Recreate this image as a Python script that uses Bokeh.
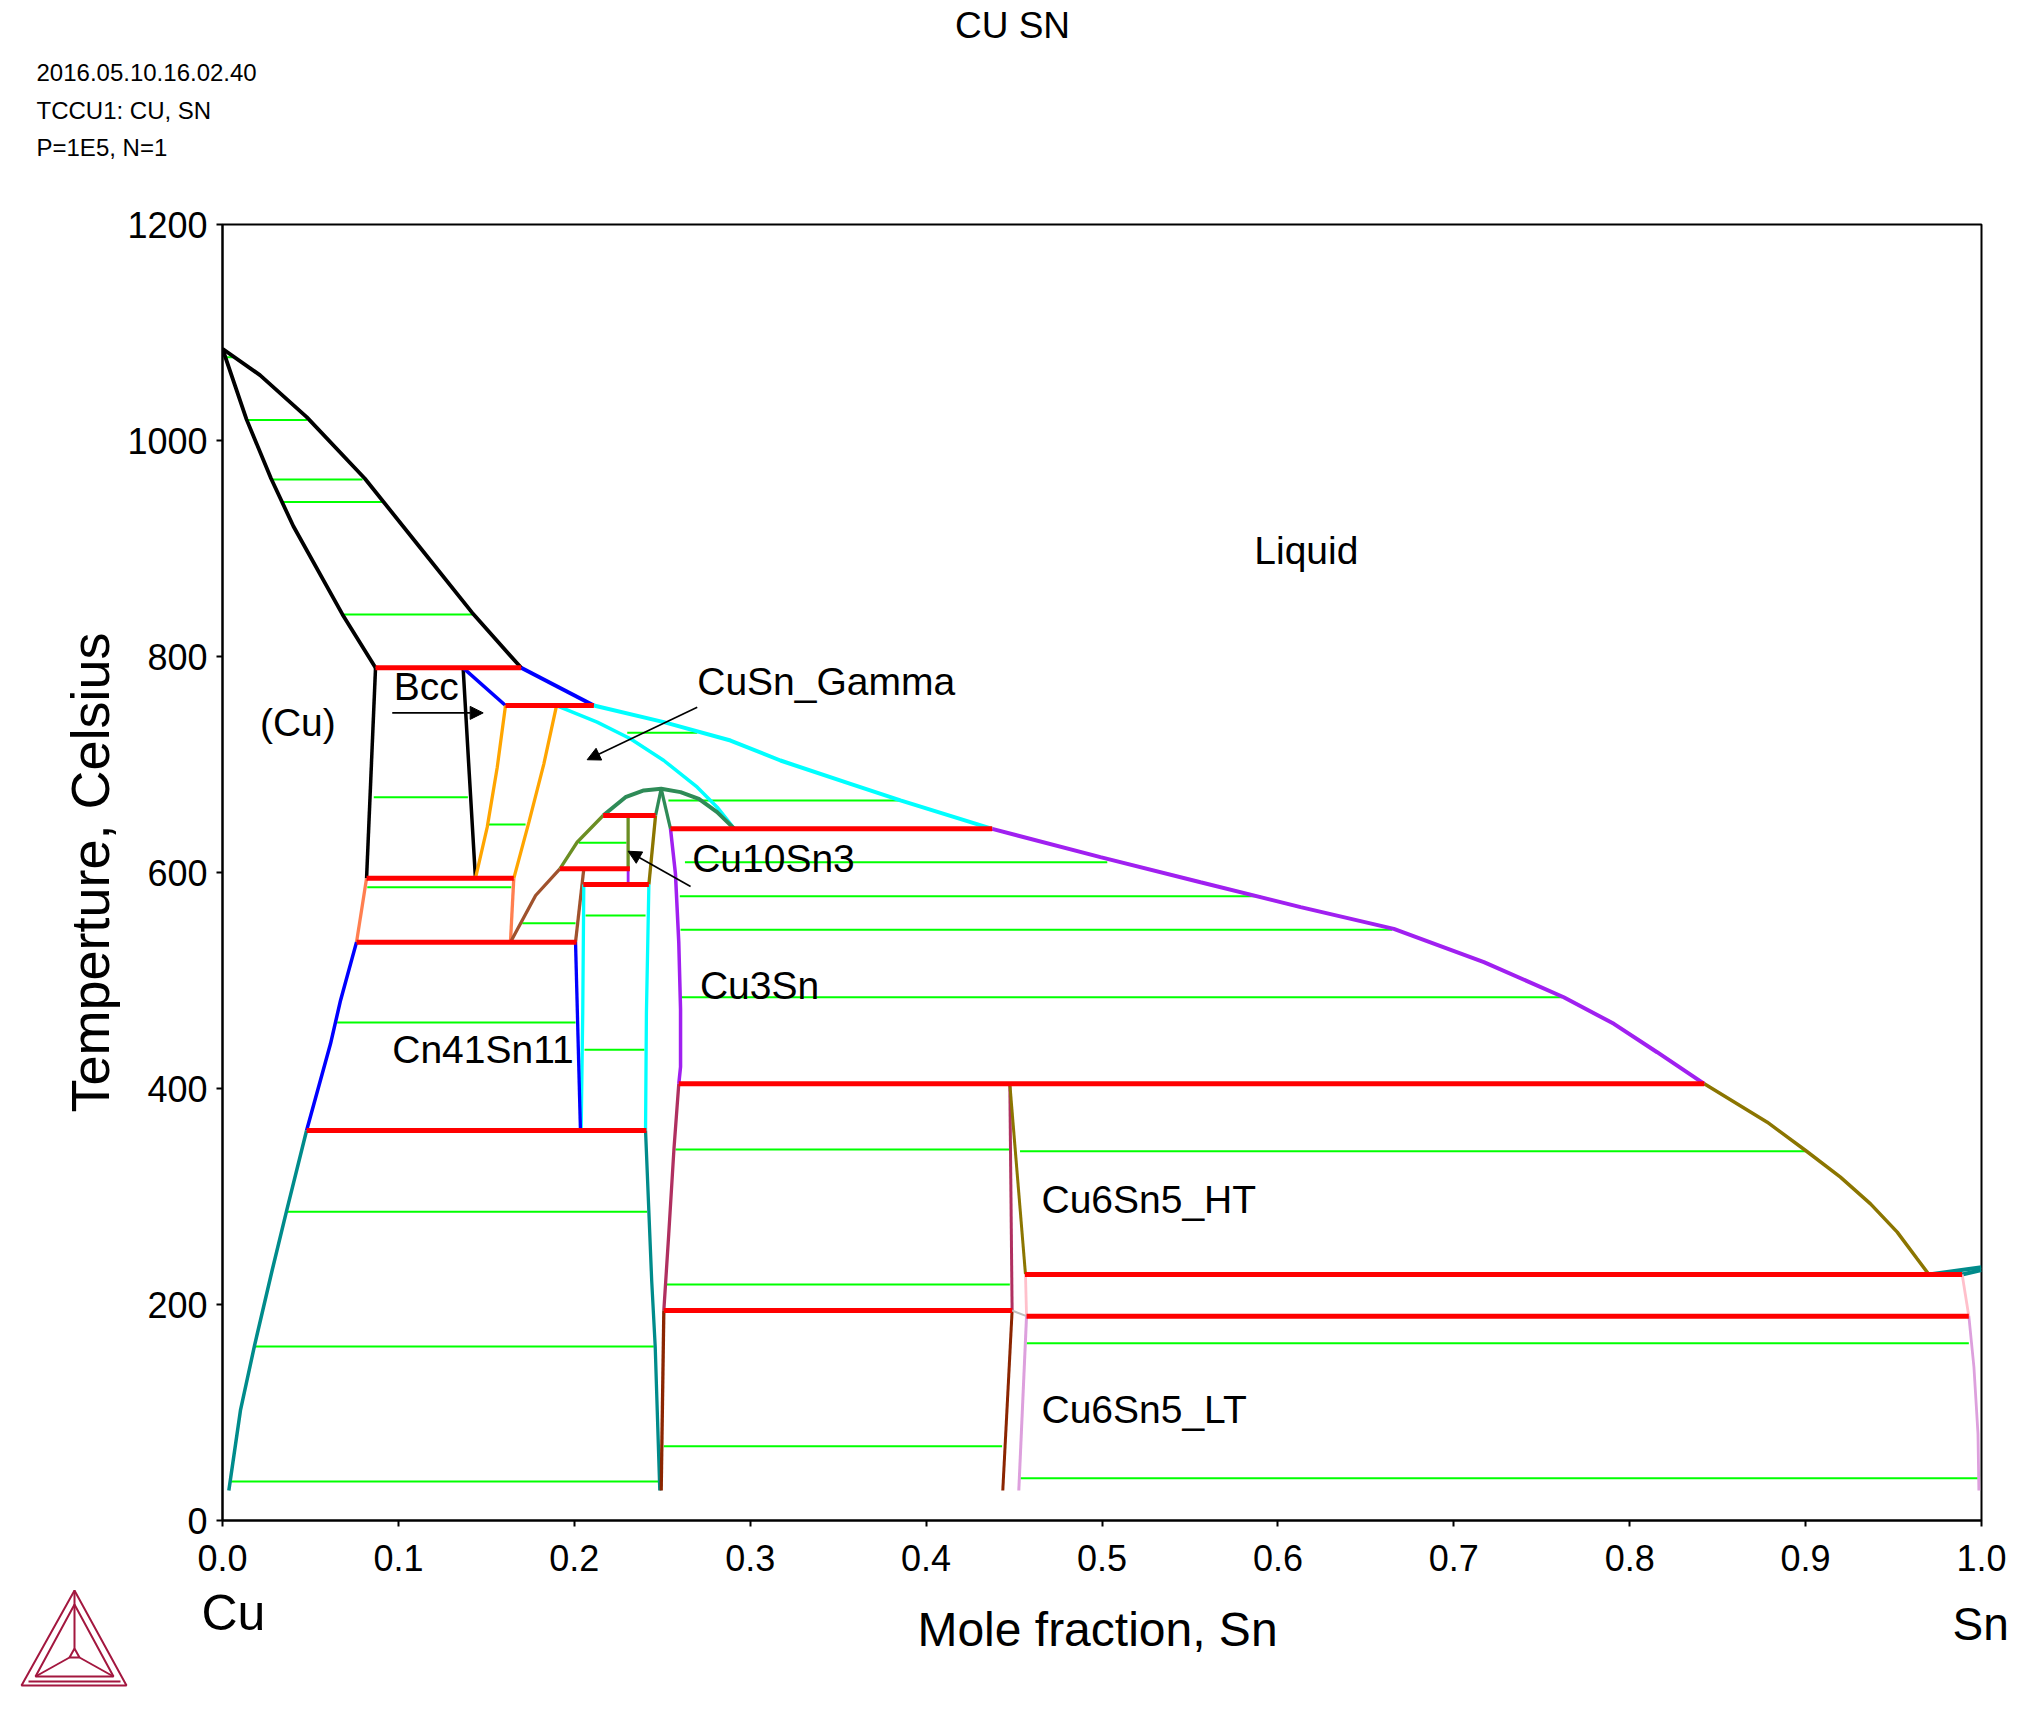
from bokeh.plotting import figure
from bokeh.layouts import column
from bokeh.models import (Range1d, FixedTicker, PrintfTickFormatter, Label, Arrow, NormalHead)
from bokeh.core.properties import value
from bokeh.embed import file_html
from bokeh.resources import INLINE

FONT = "Liberation Sans"

# ---------------- axis ticks ----------------
x_ticks = [0.0, 0.1, 0.2, 0.3, 0.4, 0.5, 0.6, 0.7, 0.8, 0.9, 1.0]
y_ticks = [0, 200, 400, 600, 800, 1000, 1200]

# ---------------- invariant (three-phase) lines ----------------
inv_T = [789.5, 754.6, 652.8, 640.4, 603.4, 594.6, 588.9, 535.5, 404.3, 361.1, 227.8, 194.4, 189.2]
inv_x0 = [0.0870, 0.1609, 0.2164, 0.2547, 0.1918, 0.0819, 0.2051, 0.0762, 0.2594, 0.0478, 0.4562, 0.2509, 0.4571]
inv_x1 = [0.1698, 0.2111, 0.2462, 0.4376, 0.2316, 0.1656, 0.2424, 0.2013, 0.8424, 0.2410, 0.9890, 0.4489, 0.9928]

# ---------------- tie lines ----------------
tie_T = [1077, 1019, 964, 943, 839, 729.3, 669.7, 666.7, 644.4, 627.5, 609.6, 586.4, 578,
         560.2, 553, 547, 484.6, 461, 435.8, 343.5, 342, 285.8, 218.5, 164.2, 161.1, 68.8, 39.2, 36.1]
tie_x0 = [0.001, 0.0136, 0.0276, 0.034, 0.0682, 0.2301, 0.0860, 0.2535, 0.1514, 0.2026, 0.2629, 0.0823, 0.2600,
          0.2064, 0.1704, 0.2604, 0.2604, 0.0652, 0.2058, 0.2575, 0.4534, 0.0364, 0.2524, 0.4571, 0.0182, 0.2509, 0.4535, 0.0038]
tie_x1 = [0.006, 0.048, 0.0796, 0.0909, 0.1421, 0.2699, 0.1395, 0.3854, 0.1723, 0.2297, 0.503, 0.1642, 0.5901,
          0.2405, 0.2007, 0.665, 0.7616, 0.2007, 0.2399, 0.4476, 0.9, 0.2414, 0.4476, 0.9928, 0.2452, 0.4432, 0.998, 0.248]

# ---------------- phase boundaries (x = mole fraction Sn, T = Celsius) ----------------
liq_cu_x = [0.0, 0.0213, 0.0479, 0.0809, 0.1114, 0.1418, 0.1698]
liq_cu_T = [1085, 1060.5, 1021.6, 964.8, 902.8, 840.8, 789.5]
sol_cu_x = [0.0, 0.0136, 0.0276, 0.0403, 0.0682, 0.0870]
sol_cu_T = [1085, 1019.8, 964.8, 920.6, 839, 789.5]
cu_solvus_x = [0.0870, 0.0819]
cu_solvus_T = [789.5, 594.6]
bcc_left_x = [0.1368, 0.1403, 0.1438]
bcc_left_T = [789.5, 691, 594.6]
bcc_sol_x = [0.1368, 0.1609]
bcc_sol_T = [789.5, 754.6]
bcc_liq_x = [0.1698, 0.2111]
bcc_liq_T = [789.5, 754.6]
bcc_right_x = [0.1609, 0.1562, 0.1505, 0.1438]
bcc_right_T = [754.6, 697.5, 642, 594.6]
gam_left_x = [0.1899, 0.1827, 0.1742, 0.1656]
gam_left_T = [754.6, 700.6, 646.6, 594.6]
gam_sol_x = [0.1899, 0.213, 0.2319, 0.2509, 0.2699, 0.2812, 0.2910]
gam_sol_T = [754.6, 739.2, 723.8, 703.7, 679, 660.5, 640.4]
gam_liq_x = [0.2111, 0.2509, 0.2888, 0.3172, 0.357, 0.3854, 0.4376]
gam_liq_T = [754.6, 739.2, 722.2, 703.7, 682.1, 666.7, 640.4]
eps_liq_x = [0.4376, 0.4991, 0.556, 0.6129, 0.6659, 0.7171, 0.7625, 0.791, 0.8156, 0.8424]
eps_liq_T = [640.4, 614.2, 591, 567.9, 547.8, 517, 484.5, 459.9, 433.6, 404.3]
eta_liq_x = [0.8424, 0.8782, 0.9, 0.9198, 0.9369, 0.9521, 0.9634, 0.9701]
eta_liq_T = [404.3, 368.8, 342.6, 317.9, 293.2, 267, 242.3, 227.8]
sn_liq_x = [0.9701, 1.0]
sn_liq_T = [227.8, 234.5]
sn_sol_x = [0.9890, 1.0]
sn_sol_T = [227.8, 232.0]
sn_ht_x = [0.9890, 0.9928]
sn_ht_T = [227.8, 189.2]
sn_lt_x = [0.9928, 0.9957, 0.9980, 0.9985]
sn_lt_T = [189.2, 142, 80.2, 27.8]
coral_l_x = [0.0819, 0.0762]
coral_l_T = [594.6, 535.5]
coral_r_x = [0.1656, 0.1637]
coral_r_T = [594.6, 535.5]
cu_low_x = [0.0762, 0.0671, 0.0614, 0.0478]
cu_low_T = [535.5, 481.5, 441.4, 361.1]
cu_rt_x = [0.0478, 0.0364, 0.0282, 0.0182, 0.0102, 0.0036]
cu_rt_T = [361.1, 286.4, 231.5, 162, 101.9, 27.8]
gam_low_x = [0.1637, 0.178, 0.1918]
gam_low_T = [535.5, 578.7, 603.4]
gam_mid_x = [0.1918, 0.2016, 0.2164]
gam_mid_T = [603.4, 628, 652.8]
dome_x = [0.2164, 0.2291, 0.2395, 0.2494, 0.2604, 0.2708, 0.2812, 0.2910]
dome_T = [652.8, 669.7, 676, 677.5, 674.4, 668.2, 655.9, 640.4]
peak_l_x = [0.2494, 0.2462]
peak_l_T = [677.5, 652.8]
cu10_r_x = [0.2462, 0.2424]
cu10_r_T = [652.8, 588.9]
peak_r_x = [0.2494, 0.2547]
peak_r_T = [677.5, 640.4]
cu3_r_x = [0.2547, 0.2575, 0.2594, 0.2604, 0.2604, 0.2594]
cu3_r_T = [640.4, 598.8, 535, 473.5, 420, 404.3]
cu10_v_x = [0.2306, 0.2306]
cu10_v_T = [652.8, 603.4]
cu10_p_x = [0.2306, 0.2306]
cu10_p_T = [603.4, 588.9]
c41_top_x = [0.2054, 0.2007]
c41_top_T = [603.4, 535.5]
c41_r_x = [0.2054, 0.2048, 0.2039]
c41_r_T = [588.9, 470, 361.1]
c41_l_x = [0.2007, 0.2035]
c41_l_T = [535.5, 361.1]
cu3_l_x = [0.2424, 0.2410, 0.2405]
cu3_l_T = [588.9, 470, 361.1]
cu3_ll_x = [0.2405, 0.2440, 0.2460, 0.2486]
cu3_ll_T = [361.1, 222, 161, 27.8]
cu3_rl_x = [0.2594, 0.2566, 0.2537, 0.2509]
cu3_rl_T = [404.3, 342.6, 265.4, 194.4]
cu3_rb_x = [0.2509, 0.2494]
cu3_rb_T = [194.4, 27.8]
c65_l_x = [0.4476, 0.4489]
c65_l_T = [404.3, 194.4]
c65_lb_x = [0.4489, 0.4436]
c65_lb_T = [194.4, 27.8]
c65_ht_x = [0.4476, 0.4565]
c65_ht_T = [404.3, 227.8]
c65_pk_x = [0.4565, 0.4571]
c65_pk_T = [227.8, 189.2]
c65_gr_x = [0.4489, 0.4571]
c65_gr_T = [194.4, 189.2]
c65_lt_x = [0.4571, 0.4527]
c65_lt_T = [189.2, 27.8]

# ---------------- labels (positions = centre of the capitals) ----------------
region_names = ["Liquid", "(Cu)", "Bcc", "CuSn_Gamma", "Cu10Sn3", "Cu3Sn", "Cn41Sn11", "Cu6Sn5_HT", "Cu6Sn5_LT"]
region_x = [0.5866, 0.0213, 0.0974, 0.2699, 0.2670, 0.2714, 0.0965, 0.4656, 0.4656]
region_T = [898.5, 738.6, 772.3, 776.9, 613.3, 495.1, 436.5, 297.0, 103.1]

title_text = "CU SN"
info_lines = ["2016.05.10.16.02.40", "TCCU1: CU, SN", "P=1E5, N=1"]
x_title = "Mole fraction, Sn"
y_title = "Temperture, Celsius"
elem_left = "Cu"
elem_right = "Sn"

BLACK = "#000000"
RED = "#ff0000"
BLUE = "#0000ff"
ORANGE = "#ffa500"
CYAN = "#00ffff"
PURPLE = "#a020f0"
OLIVE = "#8b7500"
SEAGREEN = "#2e8b57"
OLIVEDRAB = "#6b8e23"
SIENNA = "#a0522d"
CORAL = "#ff7f50"
TEAL = "#008b8b"
MAROON = "#b03060"
DKBROWN = "#8b2500"
PINK = "#ffc0cb"
PLUM = "#dda0dd"
GRAY = "#bebebe"
LIME = "#00ff00"
LOGO = "#a3173f"

curves = [
    (liq_cu_x, liq_cu_T, BLACK, 3.8), (sol_cu_x, sol_cu_T, BLACK, 3.8),
    (cu_solvus_x, cu_solvus_T, BLACK, 3.5), (bcc_left_x, bcc_left_T, BLACK, 3.5),
    (bcc_sol_x, bcc_sol_T, BLUE, 3.5), (bcc_liq_x, bcc_liq_T, BLUE, 4),
    (bcc_right_x, bcc_right_T, ORANGE, 3.3), (gam_left_x, gam_left_T, ORANGE, 3.3),
    (gam_sol_x, gam_sol_T, CYAN, 3.5), (gam_liq_x, gam_liq_T, CYAN, 4),
    (eps_liq_x, eps_liq_T, PURPLE, 4), (eta_liq_x, eta_liq_T, OLIVE, 3.5),
    (sn_liq_x, sn_liq_T, TEAL, 4), (sn_sol_x, sn_sol_T, TEAL, 4),
    (sn_ht_x, sn_ht_T, PINK, 2.8), (sn_lt_x, sn_lt_T, PLUM, 2.8),
    (coral_l_x, coral_l_T, CORAL, 3.3), (coral_r_x, coral_r_T, CORAL, 3.3),
    (cu_low_x, cu_low_T, BLUE, 3.5), (cu_rt_x, cu_rt_T, TEAL, 3.5),
    (gam_low_x, gam_low_T, SIENNA, 3.3), (gam_mid_x, gam_mid_T, OLIVEDRAB, 3.3),
    (dome_x, dome_T, SEAGREEN, 4), (peak_l_x, peak_l_T, SEAGREEN, 3.3),
    (cu10_r_x, cu10_r_T, OLIVE, 3.3), (peak_r_x, peak_r_T, SEAGREEN, 3.3),
    (cu3_r_x, cu3_r_T, PURPLE, 3.5), (cu10_v_x, cu10_v_T, OLIVEDRAB, 3.3),
    (cu10_p_x, cu10_p_T, PURPLE, 2.8), (c41_top_x, c41_top_T, SIENNA, 3.3),
    (c41_r_x, c41_r_T, CYAN, 3.3), (c41_l_x, c41_l_T, BLUE, 3.3),
    (cu3_l_x, cu3_l_T, CYAN, 3.3), (cu3_ll_x, cu3_ll_T, TEAL, 3.3),
    (cu3_rl_x, cu3_rl_T, MAROON, 3.3), (cu3_rb_x, cu3_rb_T, DKBROWN, 3.3),
    (c65_l_x, c65_l_T, MAROON, 3), (c65_lb_x, c65_lb_T, DKBROWN, 3),
    (c65_ht_x, c65_ht_T, OLIVE, 3), (c65_pk_x, c65_pk_T, PINK, 2.8),
    (c65_gr_x, c65_gr_T, GRAY, 2), (c65_lt_x, c65_lt_T, PLUM, 3),
]

# ---------------- layout geometry (page pixels) ----------------
W = 2016
TOP_H = 184
FRAME_L, FRAME_R = 222, 1981
MAIN_TOP, MAIN_BOT = 40, 66
FRAME_H = 1296
MAIN_H = MAIN_TOP + FRAME_H + MAIN_BOT
BOT_Y0 = TOP_H + MAIN_H
BOT_H = 1695 - BOT_Y0


def no_align(f):
    if "frame_align" in f.properties():
        f.frame_align = False


def blank_fig(h, y_top):
    f = figure(width=W, height=h, x_range=Range1d(0, W), y_range=Range1d(y_top + h, y_top),
               output_backend="svg", toolbar_location=None, x_axis_type=None, y_axis_type=None,
               min_border_left=0, min_border_right=0, min_border_top=0, min_border_bottom=0)
    f.min_border = 0
    f.outline_line_color = None
    f.grid.visible = False
    f.background_fill_color = "white"
    f.border_fill_color = "white"
    no_align(f)
    return f


# ---------------- header ----------------
top = blank_fig(TOP_H, 0)
top.text(x=[1012], y=[25], text=[title_text], text_font=value(FONT), text_font_size=value("37px"),
         text_align="center", text_baseline="alphabetic", text_color="black")
top.text(x=[36, 36, 36], y=[72, 110, 147], text=info_lines, text_font=value(FONT),
         text_font_size=value("24px"), text_align="left", text_baseline="alphabetic", text_color="black")

# ---------------- main diagram ----------------
p = figure(width=W, height=MAIN_H, x_range=Range1d(0, 1), y_range=Range1d(0, 1200),
           output_backend="svg", toolbar_location=None,
           min_border_left=FRAME_L, min_border_right=W - FRAME_R,
           min_border_top=MAIN_TOP, min_border_bottom=MAIN_BOT)
no_align(p)
p.grid.visible = False
p.background_fill_color = "white"
p.border_fill_color = "white"
p.outline_line_color = "black"
p.outline_line_width = 2

for ax in (p.xaxis, p.yaxis):
    ax.axis_line_width = 2
    ax.axis_line_color = "black"
    ax.major_tick_line_width = 2
    ax.major_tick_in = 0
    ax.major_tick_out = 6
    ax.minor_tick_line_color = None
    ax.major_label_text_font = FONT
    ax.major_label_text_color = "black"

p.xaxis.ticker = FixedTicker(ticks=x_ticks)
p.xaxis.formatter = PrintfTickFormatter(format="%.1f")
p.xaxis.major_label_text_font_size = "36px"
p.xaxis.major_label_standoff = 18
p.yaxis.ticker = FixedTicker(ticks=y_ticks)
p.yaxis.major_label_text_font_size = "36px"
p.yaxis.major_label_standoff = 9
p.yaxis.axis_label = y_title
p.yaxis.axis_label_text_font = FONT
p.yaxis.axis_label_text_font_size = "54px"
p.yaxis.axis_label_text_font_style = "normal"
p.yaxis.axis_label_text_color = "black"
p.yaxis.axis_label_standoff = 4

p.segment(x0=tie_x0, y0=tie_T, x1=tie_x1, y1=tie_T, line_color=LIME, line_width=2)
for xs, ts, col, w in curves:
    p.line(xs, ts, line_color=col, line_width=w)
p.segment(x0=inv_x0, y0=inv_T, x1=inv_x1, y1=inv_T, line_color=RED, line_width=5)

for name, x, t in zip(region_names, region_x, region_T):
    p.add_layout(Label(x=x, y=t, text=name, text_font=FONT, text_font_size="39px",
                       text_color="black", text_align="left", text_baseline="alphabetic"))

arr_x0 = [0.0965, 0.2699, 0.2661]
arr_T0 = [747.8, 753.0, 587.0]
arr_x1 = [0.1482, 0.2073, 0.2306]
arr_T1 = [747.8, 704.4, 619.7]
for xa, ta, xb, tb in zip(arr_x0, arr_T0, arr_x1, arr_T1):
    p.add_layout(Arrow(end=NormalHead(size=13, fill_color="black", line_color="black", line_width=1),
                       x_start=xa, y_start=ta, x_end=xb, y_end=tb,
                       line_color="black", line_width=1.6))

# ---------------- footer ----------------
bot = blank_fig(BOT_H, BOT_Y0)
bot.text(x=[201], y=[1612], text=[elem_left], text_font=value(FONT), text_font_size=value("50px"),
         text_align="left", text_baseline="alphabetic", text_color="black")
bot.text(x=[1952], y=[1623], text=[elem_right], text_font=value(FONT), text_font_size=value("46px"),
         text_align="left", text_baseline="alphabetic", text_color="black")
bot.text(x=[1097], y=[1629], text=[x_title], text_font=value(FONT), text_font_size=value("48px"),
         text_align="center", text_baseline="alphabetic", text_color="black")

# decorative Thermo-Calc style logo
logo_xs = [[74, 21, 126, 74], [74, 35, 113, 74], [74, 74], [74, 69, 79, 74], [69, 35], [79, 113], [28, 120]]
logo_ys = [[1590, 1685, 1685, 1590], [1604, 1676, 1676, 1604], [1590, 1648], [1648, 1657, 1657, 1648],
           [1657, 1676], [1657, 1676], [1681, 1681]]
bot.multi_line(xs=logo_xs, ys=logo_ys, line_color=LOGO, line_width=2)

layout = column(top, p, bot, spacing=0)
open("out.html", "w").write(file_html(layout, INLINE))
